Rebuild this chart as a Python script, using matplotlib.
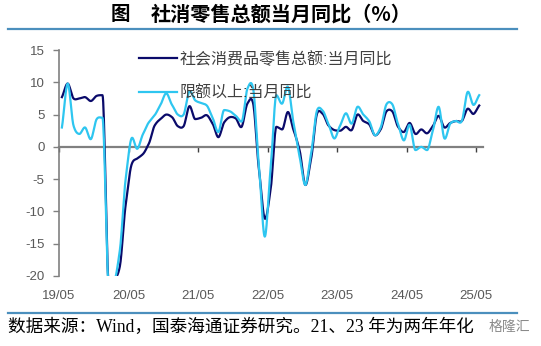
import numpy as np
import matplotlib
matplotlib.use("Agg")
from matplotlib import pyplot as plt

plt.rcParams['font.family'] = ['Liberation Sans', 'Noto Sans CJK SC']

# 社会消费品零售总额 当月同比 (%), 19/05 - 25/05，21、23 年为两年平均
retail_total = [7.7, 9.8, 7.5, 7.5, 7.7, 7.1, 7.9, 8.0,
                -20.5, -20.5, -18.5, -9.0, -2.8, -1.8, -1.1, 0.5, 3.3, 4.3, 5.0, 4.6,
                3.2, 3.2, 6.3, 4.3, 4.5, 4.9, 3.6, 1.5, 3.8, 4.6, 4.4, 3.1,
                6.7, 6.7, -3.5, -11.1, -6.7, 3.1, 2.7, 5.4, 2.5, -0.5, -5.9, -1.8,
                5.1, 5.1, 3.3, 2.6, 2.5, 3.1, 2.6, 5.0, 4.0, 3.5, 1.8, 2.7,
                5.5, 5.5, 3.1, 2.3, 3.7, 2.0, 2.7, 2.1, 3.2, 4.8, 3.0, 3.7,
                4.0, 4.0, 5.9, 5.1, 6.4]

# 限额以上 当月同比 (%)
retail_above = [3.0, 9.8, 3.3, 2.0, 3.0, 1.2, 4.3, 4.5,
                -21.0, -21.0, -16.0, -5.0, 1.3, -0.3, 2.0, 3.8, 4.9, 6.5, 8.3, 6.5,
                5.0, 5.0, 8.6, 7.2, 6.8, 6.4, 4.5, 2.3, 5.7, 5.5, 4.8, 3.9,
                9.0, 9.0, -3.0, -13.9, -3.5, 8.0, 6.7, 9.3, 3.5, -1.5, -5.9, -1.0,
                5.6, 5.6, 3.5, 1.3, 3.3, 5.2, 3.6, 6.2, 5.0, 4.0, 1.8, 3.0,
                6.6, 6.6, 3.5, 1.0, 3.4, -0.5, 0.0, -0.5, 2.5, 6.2, 1.3, 3.6,
                4.0, 4.0, 8.5, 6.5, 8.0]

tick_labels = ['19/05', '20/05', '21/05', '22/05', '23/05', '24/05', '25/05']
y_ticks = [15, 10, 5, 0, -5, -10, -15, -20]

label_total = '社会消费品零售总额:当月同比'
label_above = '限额以上:当月同比'


# 平滑曲线 (Hermite)；两侧斜率反向且相差悬殊时切线置零，避免大跌前的过冲
def smooth(x, y, n=16, k=0.8):
    x = np.asarray(x, float)
    y = np.asarray(y, float)
    yp = np.concatenate([[2*y[0]-y[1]], y, [2*y[-1]-y[-2]]])
    dl = np.diff(yp)[:-1]
    dr = np.diff(yp)[1:]
    m = k * (dl + dr) / 2
    big = np.maximum(np.abs(dl), np.abs(dr))
    small = np.minimum(np.abs(dl), np.abs(dr))
    m[(dl*dr < 0) & (big > 5*small)] = 0
    t = np.linspace(0, 1, n, endpoint=False)
    h00 = 2*t**3 - 3*t**2 + 1
    h10 = t**3 - 2*t**2 + t
    h01 = -2*t**3 + 3*t**2
    h11 = t**3 - t**2
    xs, ys = [], []
    for i in range(len(x)-1):
        xs.append(x[i] + t*(x[i+1]-x[i]))
        ys.append(h00*y[i] + h10*m[i] + h01*y[i+1] + h11*m[i+1])
    xs.append([x[-1]])
    ys.append([y[-1]])
    return np.concatenate(xs), np.concatenate(ys)


months = np.arange(len(retail_total)) + 0.5

fig = plt.figure(figsize=(5.41, 3.46), dpi=100)
ax = fig.add_axes([59/541, 1-276/346, (482.7-59)/541, 226/346])

x1, y1 = smooth(months, retail_total)
x2, y2 = smooth(months, retail_above)
ax.plot(x1, y1, color='#0a0a6a', lw=1.6, label=label_total, zorder=3)
ax.plot(x2, y2, color='#2ec6f0', lw=1.6, label=label_above, zorder=4)

ax.set_xlim(0, 73.1)
ax.set_ylim(-20, 15)
ax.set_yticks(y_ticks)
ax.set_yticklabels([str(v) for v in y_ticks])
ax.tick_params(axis='y', direction='out', length=4, width=1, color='#808080',
               labelsize=9.5, labelcolor='#595959', pad=6.5)

# 零轴：带刻度
ax.spines['bottom'].set_position(('data', 0))
ax.spines['bottom'].set_color('#808080')
ax.spines['bottom'].set_linewidth(1.6)
ax.spines['bottom'].set_zorder(2)
ax.spines['left'].set_color('#808080')
ax.spines['left'].set_linewidth(1.2)
for s in ('top', 'right'):
    ax.spines[s].set_visible(False)
ax.set_xticks(np.arange(len(tick_labels)) * 12)
ax.set_xticklabels([])
ax.tick_params(axis='x', direction='out', length=3.5, width=1, color='#404040')

# 日期标签放在图底部
sec = ax.secondary_xaxis(0)
sec.spines['bottom'].set_visible(False)
sec.set_xticks(np.arange(len(tick_labels)) * 12)
sec.set_xticklabels(tick_labels)
sec.tick_params(length=0, labelsize=9.5, labelcolor='#595959', pad=10)

leg = ax.legend(loc='upper left', bbox_to_anchor=((131-59)/423.7, 1.03),
                frameon=False, borderpad=0, handlelength=2.4, handletextpad=0.15,
                labelspacing=1.15, prop={'size': 11.5})
for t in leg.get_texts():
    t.set_color('#404040')

# 标题与分隔线
fig.text(120/541, 1-14/346, '图', ha='center', va='center', fontsize=14,
         fontweight='bold', family=['Noto Sans CJK SC'])
fig.text(151/541, 1-14/346, '社消零售总额当月同比（%）', ha='left', va='center',
         fontsize=14.5, fontweight='bold', family=['Noto Sans CJK SC'])
fig.add_artist(plt.Line2D([8/541, 517/541], [1-29/346, 1-29/346], color='#4b8fbd', lw=1.6))
fig.add_artist(plt.Line2D([8/541, 517/541], [1-313/346, 1-313/346], color='#4b8fbd', lw=1.6))

fig.text(8/541, 1-327/346, '数据来源：Wind，国泰海通证券研究。21、23 年为两年年化',
         ha='left', va='center', fontsize=12.7,
         family=['Liberation Serif', 'Noto Sans CJK SC'])
fig.text(489/541, 1-327/346, '格隆汇', ha='left', va='center', fontsize=10,
         color='#8a8a8a', family=['Noto Sans CJK SC'])

fig.savefig('out.png', dpi=100)
